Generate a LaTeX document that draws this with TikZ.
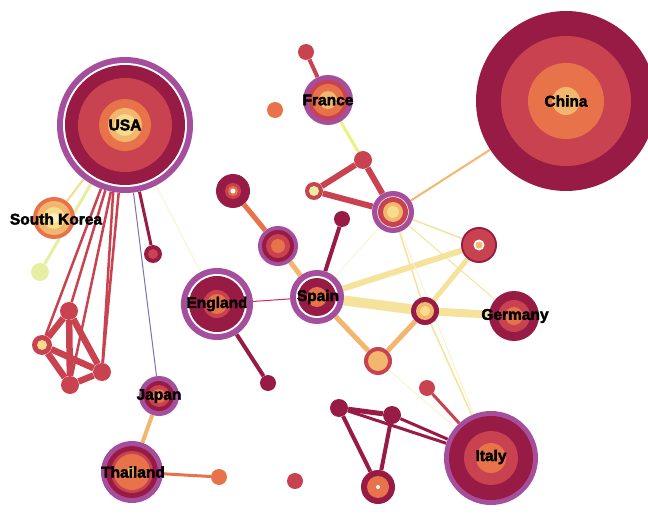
\documentclass[tikz,border=0pt]{standalone}
\usepackage{fontspec}
\newfontfamily\lblfont{Liberation Sans}[BoldFeatures={FakeBold=2.5}]
\usepackage{tikz}
\usetikzlibrary{backgrounds}
\usepackage{xcolor}

\definecolor{maroon}{RGB}{152,27,69}
\definecolor{crimson}{RGB}{200,67,79}
\definecolor{tangerine}{RGB}{232,115,74}
\definecolor{peach}{RGB}{243,182,110}
\definecolor{cream}{RGB}{246,220,140}
\definecolor{ivory}{RGB}{250,240,190}
\definecolor{lime}{RGB}{230,238,162}
\definecolor{plum}{RGB}{164,78,156}
\definecolor{straw}{RGB}{245,226,155}
\definecolor{haze}{RGB}{248,244,208}
\definecolor{lilac}{RGB}{126,111,184}
\definecolor{rose}{RGB}{214,36,94}

% concentric bubble: name, position, outer radius, rings (radius/colour)
\newcommand{\bubble}[4]{%
  \foreach \r/\c in {#4} {\fill[\c] (#2) circle (\r pt);}
  \node[hub, minimum size={2*#3pt}] (#1) at (#2) {};
}

\begin{document}
\begin{tikzpicture}[
    x=1pt, y=-1pt,
    hub/.style={circle, inner sep=0pt},
    tag/.style={font=\lblfont\bfseries\fontsize{15.5}{15.5}\selectfont, text=black, inner sep=0pt},
    wire/.style={line width=#1}
]
\useasboundingbox (0,0) rectangle (648,532);
\clip (0,0) rectangle (648,532);

% Country bubbles
\bubble{usa}{125,125}{68}{68/plum, 62/white, 60/maroon, 47/crimson, 26/tangerine, 17/peach, 11/cream}
\bubble{china}{566,101}{90}{90/maroon, 65/crimson, 38/tangerine, 14/peach}
\bubble{france}{328,100}{25}{25/plum, 20/crimson, 16/tangerine, 9/peach}
\bubble{korea}{54,218}{21}{21/tangerine, 17/peach, 11/cream, 5/ivory}
\bubble{england}{217,304}{36}{36/plum, 30/white, 28/maroon, 14/crimson, 10/tangerine}
\bubble{spain}{317,297}{27}{27/plum, 21/white, 19/maroon, 10/tangerine}
\bubble{germany}{514,316}{25}{25/maroon, 16/crimson, 9/tangerine}
\bubble{italy}{491,458}{47}{47/plum, 42/maroon, 27/crimson, 15/tangerine}
\bubble{japan}{159,396}{20}{20/plum, 15/maroon, 11/crimson, 7/tangerine, 3/peach}
\bubble{thailand}{132,472}{31}{31/plum, 26/maroon, 21/crimson, 18/tangerine, 5/peach}

% Other bubbles
\bubble{hubA}{393,212}{21}{21/plum, 15.7/white, 15/crimson, 10/peach, 6/cream}
\bubble{triTop}{363,160}{9}{9/crimson}
\bubble{triLeft}{314,191}{9}{9/crimson, 5/lime}
\bubble{frDot}{306,52}{8}{8/crimson}
\bubble{lone}{275,110}{8}{8/tangerine}
\bubble{spDot}{342,219}{8}{8/maroon}
\bubble{nodeB}{233,191}{17}{17/maroon, 8/crimson, 5/tangerine, 2.5/white}
\bubble{nodeC}{278,246}{20}{20/plum, 16/maroon, 12/crimson, 7/tangerine}
\bubble{enDot}{268,383}{8}{8/maroon}
\bubble{nodeD}{378,361}{14}{14/crimson, 10/peach}
\bubble{nodeE}{425,311}{14}{14/maroon, 9/peach, 5/cream}
\bubble{nodeF}{479,245}{18}{18/maroon, 16/crimson, 5.5/white, 3.5/peach}
\bubble{itDot}{427,388}{8}{8/crimson}
\bubble{botH}{339,408}{9}{9/maroon}
\bubble{botI}{392,415}{9}{9/maroon}
\bubble{botJ}{378,487}{17}{17/maroon, 11/tangerine, 2/white}
\bubble{redDot}{295,481}{8}{8/crimson}
\bubble{thDot}{219,477}{8}{8/tangerine}
\bubble{usDot}{153,254}{9}{9/maroon, 5/crimson}
\bubble{limeDot}{40,272}{9}{9/lime}
\bubble{clK}{69,311}{9}{9/crimson}
\bubble{clL}{42,345}{10}{10/crimson, 5/cream}
\bubble{clM}{70,385}{9}{9/crimson}
\bubble{clN}{102,372}{9}{9/crimson}

% Labels
\node[tag] (usa-t) at (usa) {USA};
\node[tag] (china-t) at (china) {China};
\node[tag] (france-t) at (france) {France};
\node[tag] (korea-t) at (56,219) {South Korea};
\node[tag] (england-t) at (england) {England};
\node[tag] (spain-t) at (318,297) {Spain};
\node[tag] (germany-t) at (515,316) {Germany};
\node[tag] (italy-t) at (491,457) {Italy};
\node[tag] (japan-t) at (japan) {Japan};
\node[tag] (thailand-t) at (133,472) {Thailand};

% Links
\begin{scope}[on background layer]
\draw[wire=2pt, cream] (usa) -- (korea);
\draw[wire=3pt, lime] (usa) -- (limeDot);
\draw[wire=2.5pt, crimson] (usa) -- (clL);
\draw[wire=2.5pt, crimson] (usa) -- (clK);
\draw[wire=2.5pt, crimson] (usa) -- (clM);
\draw[wire=2.5pt, crimson] (usa) -- (clN);
\draw[wire=2.5pt, crimson] (usa.-100) -- (clN);
\draw[wire=1pt, lilac] (usa) -- (japan);
\draw[wire=3pt, maroon] (usa) -- (usDot);
\draw[wire=1pt, haze] (usa) -- (england);
\draw[wire=6.5pt, crimson] (clK) -- (clL);
\draw[wire=6.5pt, crimson] (clK) -- (clM);
\draw[wire=6.5pt, crimson] (clK) -- (clN);
\draw[wire=6.5pt, crimson] (clL) -- (clM);
\draw[wire=6.5pt, crimson] (clL) -- (clN);
\draw[wire=6.5pt, crimson] (clM) -- (clN);
\draw[wire=4pt, peach] (japan) -- (thailand);
\draw[wire=3pt, tangerine] (thailand) -- (thDot);
\draw[wire=5pt, tangerine] (nodeB) -- (nodeC);
\draw[wire=5pt, peach] (nodeC) -- (spain);
\draw[wire=1pt, rose] (england) -- (spain);
\draw[wire=4pt, maroon] (england) -- (enDot);
\draw[wire=4pt, maroon] (spain) -- (spDot);
\draw[wire=5pt, peach] (spain) -- (nodeD);
\draw[wire=6pt, straw] (spain) -- (nodeF);
\draw[wire=10pt, straw] (spain) -- (nodeE);
\draw[wire=8pt, straw] (nodeE) -- (germany);
\draw[wire=5pt, straw] (nodeE) -- (nodeF);
\draw[wire=5pt, peach] (nodeE) -- (nodeD);
\draw[wire=1pt, haze] (hubA) -- (spain);
\draw[wire=1.5pt, straw] (hubA) -- (nodeF);
\draw[wire=1pt, straw] (hubA) -- (germany);
\draw[wire=1.5pt, straw] (hubA) -- (nodeE);
\draw[wire=1pt, haze] (hubA) -- (italy);
\draw[wire=1.5pt, straw] (nodeE) -- (italy);
\draw[wire=1pt, haze] (nodeD) -- (italy);
\draw[wire=2pt, peach] (hubA) -- (china);
\draw[wire=3pt, lime!80!yellow] (france) -- (triTop);
\draw[wire=4pt, crimson] (france) -- (frDot);
\draw[wire=6pt, crimson] (triTop) -- (hubA);
\draw[wire=6pt, crimson] (triLeft) -- (hubA);
\draw[wire=6pt, crimson] (triTop) -- (triLeft);
\draw[wire=3pt, crimson] (itDot) -- (italy);
\draw[wire=5pt, maroon] (botH) -- (botI);
\draw[wire=4pt, maroon] (botH) -- (botJ);
\draw[wire=4pt, maroon] (botI) -- (botJ);
\draw[wire=3pt, maroon] (botH) -- (italy);
\draw[wire=3pt, maroon] (botI) -- (italy);
\end{scope}

\end{tikzpicture}
\end{document}
